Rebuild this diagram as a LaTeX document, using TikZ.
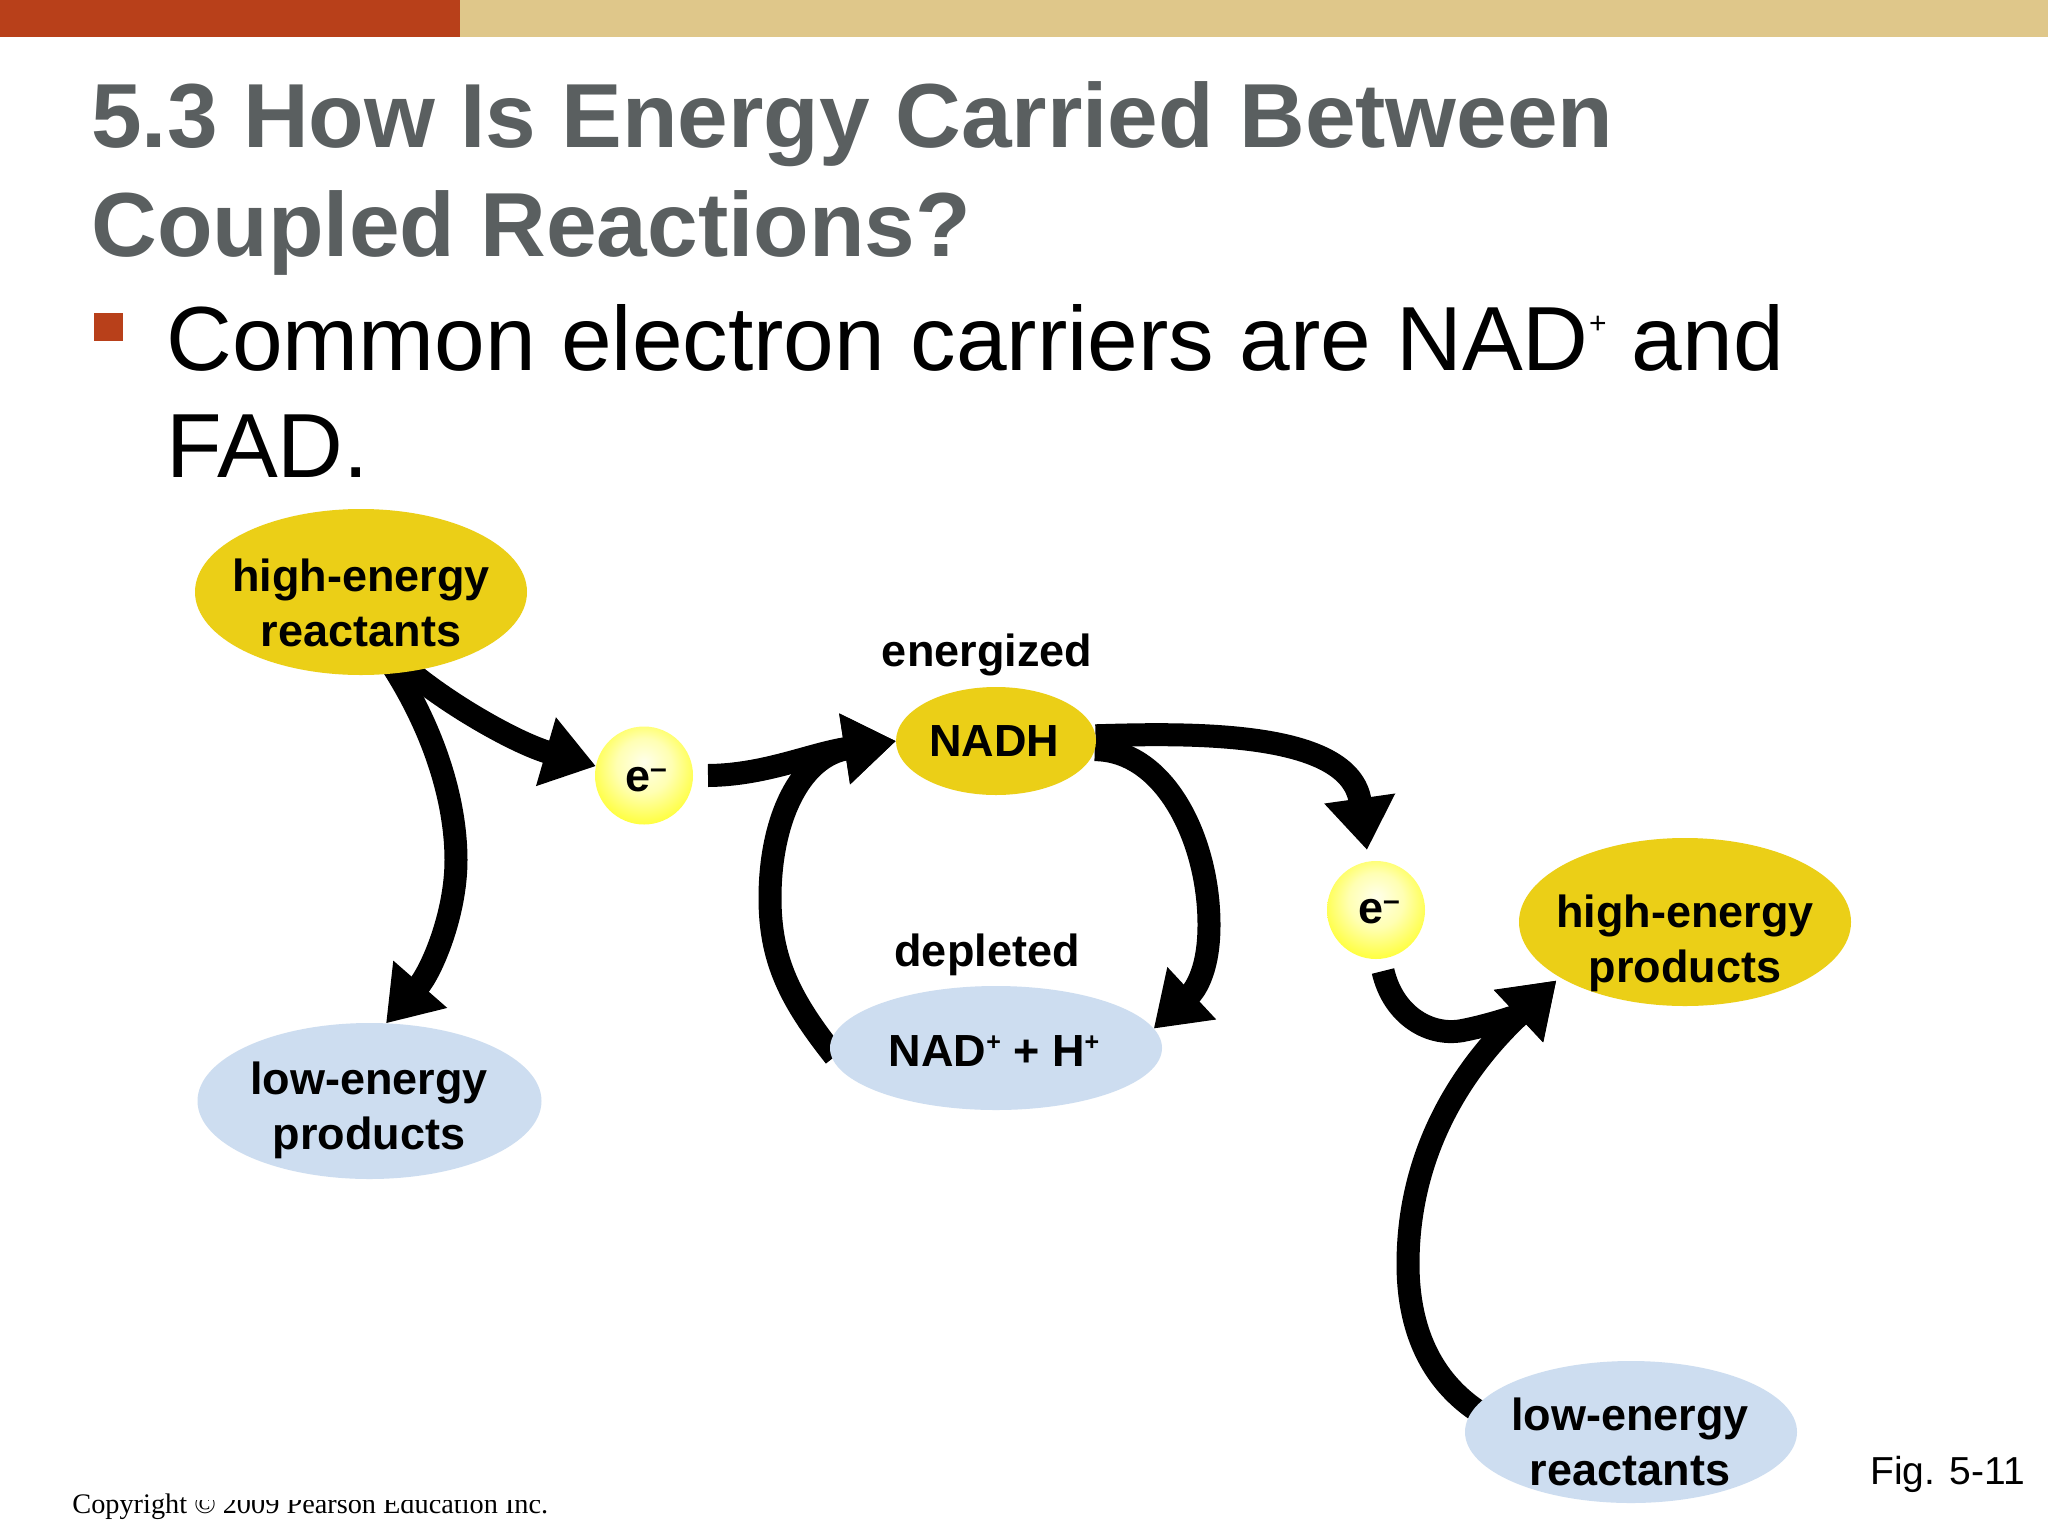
\documentclass[tikz,border=0pt]{standalone}
\usepackage{fontspec}
\setmainfont{Liberation Sans}
\newfontfamily\serifcopy{Liberation Serif}
\usetikzlibrary{arrows.meta,shapes.geometric,calc,backgrounds}
\definecolor{barred}{HTML}{B8401A}
\definecolor{bartan}{HTML}{DFC78A}
\definecolor{titlegrey}{HTML}{5A5F60}
\definecolor{eyellow}{HTML}{EBCF17}
\definecolor{eblue}{HTML}{CDDDF0}
\pgfdeclareradialshading{eshade}{\pgfpoint{0bp}{7bp}}{color(0bp)=(white!92!yellow);color(14bp)=(white!70!yellow);color(27bp)=(yellow!72!white);color(40bp)=(yellow!95!orange);color(50bp)=(yellow!95!orange)}
\tikzset{
  x=0.5pt,y=-0.5pt,
  ebox/.style={shape=ellipse,inner sep=0pt,outer sep=0pt},
  hibox/.style={ebox,fill=eyellow},
  lobox/.style={ebox,fill=eblue},
  elbox/.style={ebox,shading=eshade,minimum width=49pt,minimum height=49pt},
  lbl/.style={inner sep=0pt,align=center,font=\fontsize{22.5}{27.5}\selectfont\bfseries},
  titletext/.style={inner sep=0pt,anchor=base west,text=titlegrey,font=\fontsize{45.5}{54}\selectfont\bfseries},
  bodytext/.style={inner sep=0pt,anchor=base west,font=\fontsize{45.55}{54}\selectfont},
  flow/.style={line width=11.5pt,draw=black,-{Triangle[length=26pt,width=34pt]}},
}
\newcommand{\supplus}{\raisebox{0.36em}{\fontsize{12.5}{12.5}\selectfont +}}
\newcommand{\supminus}{\raisebox{0.30em}{\fontsize{15}{15}\selectfont –}}
\begin{document}
\begin{tikzpicture}
\useasboundingbox (0,0) rectangle (2048,1536);
\fill[bartan] (0,0) rectangle (2048,37);
\fill[barred] (0,0) rectangle (460,37);
\node[titletext] (t1) at (91,148) {5.3 How Is Energy Carried Between};
\node[titletext] (t2) at (91,256.5) {Coupled Reactions?};
\fill[barred] (94,313) rectangle (123,341);
\node[bodytext] (b1) at (166,370) {Common electron carriers are NAD\raisebox{0.4em}{\fontsize{15}{15}\selectfont +} and};
\node[bodytext] (b2) at (166,477) {FAD.};
% ellipses
\node[hibox,minimum width=166pt,minimum height=83pt] (hr) at (361,592) {};
\node[lobox,minimum width=172pt,minimum height=78pt] (lp) at (369.5,1101) {};
\node[elbox] (e1) at (644,775.5) {};
\node[hibox,minimum width=100pt,minimum height=54pt] (nadh) at (996,741) {};
\node[lobox,minimum width=166pt,minimum height=62pt] (nad) at (996,1048) {};
\node[elbox] (e2) at (1376,910) {};
\node[hibox,minimum width=166pt,minimum height=84pt] (hp) at (1685,922) {};
\node[lobox,minimum width=166pt,minimum height=71pt] (lr) at (1631,1432) {};
% labels
\node[lbl] (lhr) at (361,603) {high-energy\\reactants};
\node[lbl] (llp) at (369,1110) {low-energy\\products};
\node[lbl] (le1) at (646,780) {e\supminus};
\node[lbl] (lnadh) at (994,741) {NADH};
\node[lbl] (lnad) at (994,1051) {NAD\supplus{} + H\supplus};
\node[lbl] (le2) at (1379,912) {e\supminus};
\node[lbl] (lhp) at (1685,943) {high-energy\\products};
\node[lbl] (llr) at (1630,1442) {low-energy\\reactants};
\node[lbl] (len) at (987,655) {energized};
\node[lbl] (lde) at (987,955) {depleted};
\node[inner sep=0pt,anchor=base west,font=\fontsize{19.5}{24}\selectfont] (fig) at (1870,1484) {Fig. 5-11};
\node[inner sep=0pt,anchor=base west,font=\serifcopy\fontsize{14.15}{17}\selectfont] (copy) at (72,1513) {Copyright © 2009 Pearson Education Inc.};
\fill[white] (192,1470) rectangle (570,1500);
% connectors behind the ellipses
\begin{scope}[on background layer]
\fill[white] (0,0) rectangle (2048,1536);
\draw[flow] ($(hr)!.9!(hr.-61)$) .. controls (445,703) and (516,743) .. (e1.169);
\draw[flow] ($(hr)!.9!(hr.-67)$) .. controls (440,740) and (456,810) .. (456,860) .. controls (456,915) and (431,972) .. (lp.78);
\draw[flow] ($(e1.east)+(15,0)$) .. controls (765,775) and (810,754) .. (nadh.180);
\draw[flow] ($(nad)!.98!(nad.183)$) .. controls (790,1000) and (770,960) .. (770,898) .. controls (770,820) and (800,756) .. (nadh.180);
\draw[flow] (nadh.-5) .. controls (1165,750) and (1209,840) .. (1209,925) .. controls (1209,975) and (1192,993) .. (nad.7);
\draw[flow] (nadh.3) .. controls (1190,733) and (1350,730) .. ($(e2.north)+(-9,-11)$);
\draw[flow] ($(e2.south)+(7,12)$) .. controls (1393,1015) and (1430,1038) .. (1465,1030) .. controls (1490,1025) and (1520,1015) .. ($(hp.204)+(-4,3)$);
\draw[flow] ($(lr)!.98!(lr.172)$) .. controls (1425,1375) and (1408,1320) .. (1408,1264) .. controls (1408,1160) and (1455,1075) .. ($(hp.204)+(-4,3)$);
\end{scope}
\end{tikzpicture}
\end{document}
